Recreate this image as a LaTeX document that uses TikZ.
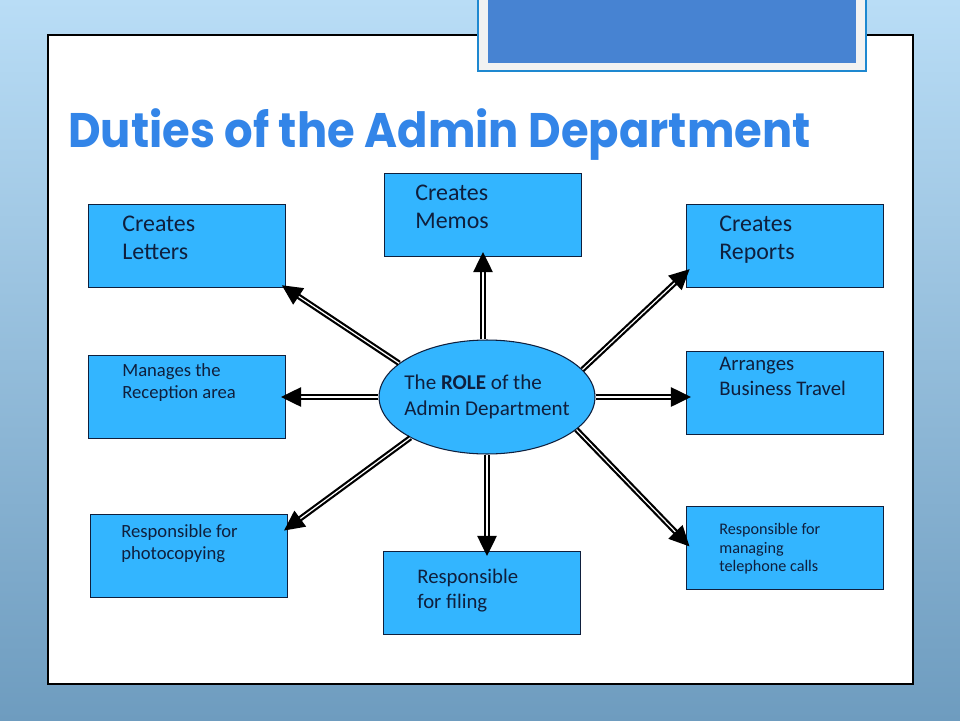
\documentclass[tikz,border=0pt]{standalone}
\usepackage{fontspec}
\setmainfont{Carlito}
\newfontfamily\titlefont[FakeStretch=0.925]{Poppins}
\usetikzlibrary{shapes.geometric,arrows.meta}
\definecolor{dutyblue}{HTML}{33B5FF}
\definecolor{inkblue}{HTML}{0F1F3D}
\definecolor{headblue}{HTML}{3385E8}
\definecolor{barblue}{HTML}{4783D2}
\definecolor{barline}{HTML}{1E88D0}
\definecolor{skytop}{HTML}{B9DDF6}
\definecolor{skybot}{HTML}{6E9CBF}
\newcommand{\dutyL}{\fontsize{13.6}{16.3}\selectfont}
\newcommand{\dutyM}{\fontsize{11.8}{14.6}\selectfont}
\newcommand{\dutyS}{\fontsize{10.6}{13}\selectfont}
\newcommand{\dutyT}{\fontsize{9.2}{10.8}\selectfont}

\tikzset{
  duty/.style={draw=inkblue, line width=0.6pt, fill=dutyblue,
    minimum width=3.94cm, minimum height=1.66cm, inner sep=0pt},
  dutytext/.style={anchor=base west, align=left, text=inkblue, inner sep=0pt},
  spoke/.style={draw=black, line width=1.25pt, double=white, double distance=0.7pt,
    -{Triangle[length=11.5pt,width=11pt]}, shorten >=-0.1cm},
}

\begin{document}
\begin{tikzpicture}[x=0.02cm, y=-0.02cm]
\useasboundingbox (0,0) rectangle (960,720);
% slide
\shade[top color=skytop, bottom color=skybot] (0,0) rectangle (960,720);
\draw[fill=white, line width=0.6pt] (48,35) rectangle (913,684);
\draw[barline, fill=black!5, line width=0.8pt] (478,-4) rectangle (866,71);
\fill[barblue] (488,-4) rectangle (856,63);

\node[anchor=base west, inner sep=0pt, text=headblue,
  font=\titlefont\bfseries\fontsize{27.6}{30}\selectfont] (title) at (68,147)
  {Duties of the Admin Department};

% centre
\node[ellipse, draw=inkblue, line width=0.6pt, fill=dutyblue, minimum width=4.32cm,
  minimum height=2.28cm, inner xsep=-5pt, inner ysep=0pt, align=left, text=inkblue,
  font=\fontsize{12}{14.7}\selectfont] (role) at (487,397) {The \textbf{ROLE} of the\\Admin Department};

% duties
\node[duty] (letters) at (187,246) {};
\node[duty] (memos) at (483,215) {};
\node[duty] (reports) at (785,246) {};
\node[duty] (reception) at (187,397) {};
\node[duty] (travel) at (785,393) {};
\node[duty] (copying) at (189,556) {};
\node[duty] (filing) at (482,593) {};
\node[duty] (phone) at (785,548) {};

\node[dutytext, font=\dutyL] (letters-t) at ([shift={(34,56)}]letters.north west) {Creates\\Letters};
\node[dutytext, font=\dutyL] (memos-t) at ([shift={(31,56)}]memos.north west) {Creates\\Memos};
\node[dutytext, font=\dutyL] (reports-t) at ([shift={(33,56)}]reports.north west) {Creates\\Reports};
\node[dutytext, font=\dutyS] (reception-t) at ([shift={(34,44)}]reception.north west) {Manages the\\Reception area};
\node[dutytext, font=\dutyM] (travel-t) at ([shift={(33,45)}]travel.north west) {Arranges\\Business Travel};
\node[dutytext, font=\dutyS] (copying-t) at ([shift={(31,46)}]copying.north west) {Responsible for\\photocopying};
\node[dutytext, font=\dutyM] (filing-t) at ([shift={(34,58)}]filing.north west) {Responsible\\for filing};
\node[dutytext, font=\dutyT] (phone-t) at ([shift={(33,66)}]phone.north west) {Responsible for\\managing\\telephone calls};

% spokes
\draw[spoke] (role.159) -- (letters.south east);
\draw[spoke] (role.north -| memos.south) -- (memos.south);
\draw[spoke] (role.16) -- (reports.195);
\draw[spoke] (role.west) -- (role.west -| reception.east);
\draw[spoke] (role.east) -- (role.east -| travel.west);
\draw[spoke] (role.208) -- (copying.16);
\draw[spoke] (role.south) -- (role.south |- filing.north);
\draw[spoke] (role.340) -- (phone.177);
\end{tikzpicture}
\end{document}
